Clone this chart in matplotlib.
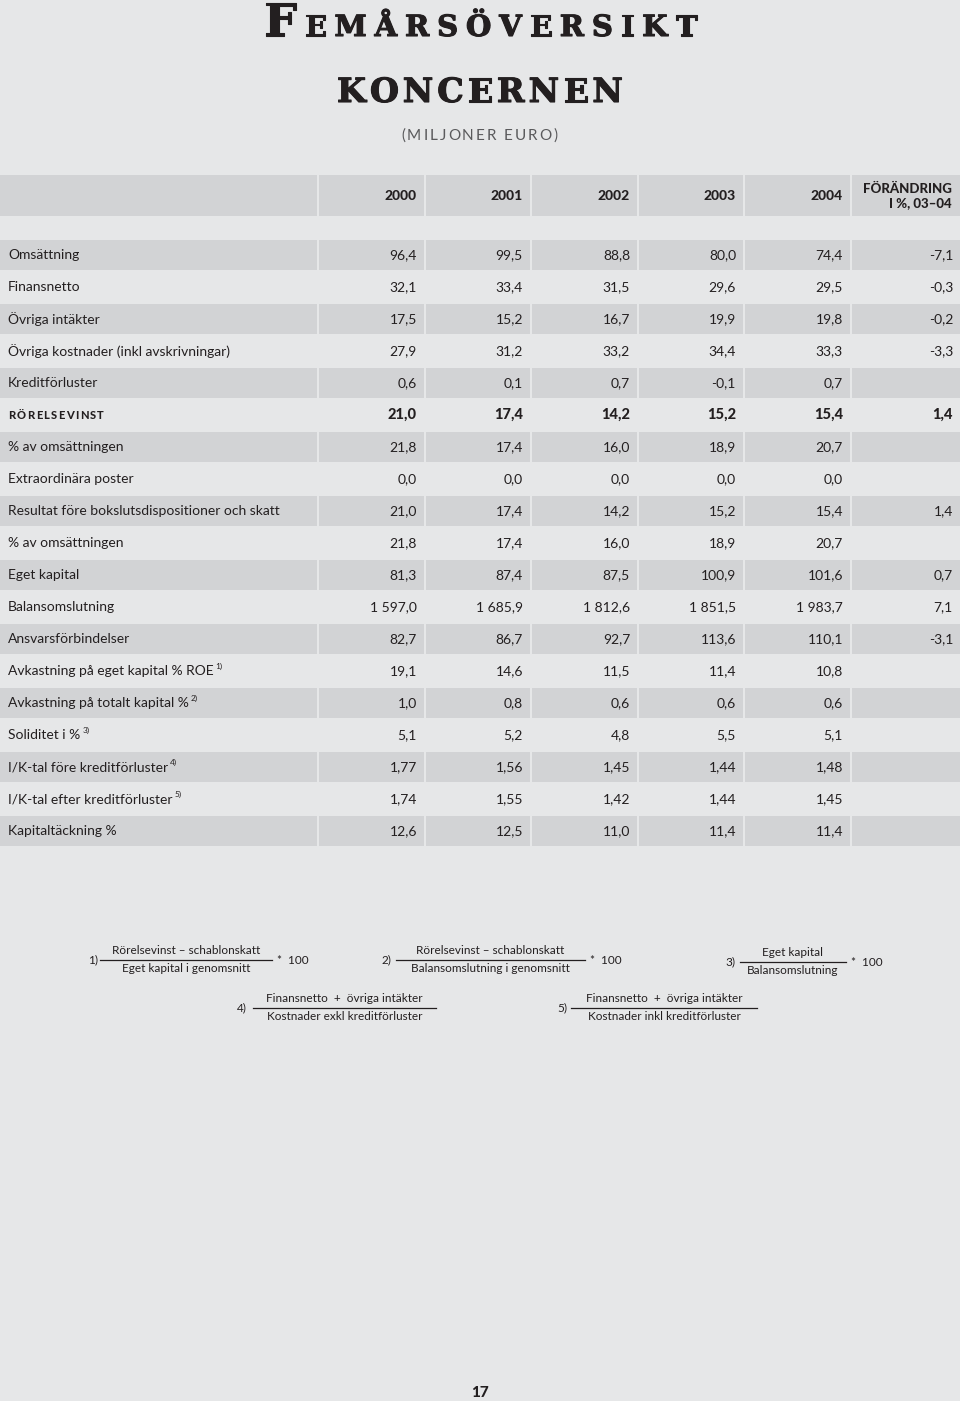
import matplotlib
matplotlib.use("Agg")
import matplotlib.pyplot as plt
from matplotlib.patches import Rectangle
import matplotlib.patheffects as pe

# ---------------- data ----------------
years = ["2000", "2001", "2002", "2003", "2004"]
change_header = ["FÖRÄNDRING", "I %, 03–04"]
row_labels = [
    "Omsättning", "Finansnetto", "Övriga intäkter",
    "Övriga kostnader (inkl avskrivningar)", "Kreditförluster",
    "RÖRELSEVINST", "% av omsättningen", "Extraordinära poster",
    "Resultat före bokslutsdispositioner och skatt", "% av omsättningen",
    "Eget kapital", "Balansomslutning", "Ansvarsförbindelser",
    "Avkastning på eget kapital % ROE", "Avkastning på totalt kapital %",
    "Soliditet i %", "I/K-tal före kreditförluster",
    "I/K-tal efter kreditförluster", "Kapitaltäckning %",
]
row_notes = ["", "", "", "", "", "", "", "", "", "", "", "", "",
             "1)", "2)", "3)", "4)", "5)", ""]
row_decimals = [1, 1, 1, 1, 1, 1, 1, 1, 1, 1, 1, 1, 1, 1, 1, 1, 2, 2, 1]
bold_rows = ["RÖRELSEVINST"]

v2000 = [96.4, 32.1, 17.5, 27.9, 0.6, 21.0, 21.8, 0.0, 21.0, 21.8, 81.3, 1597.0, 82.7, 19.1, 1.0, 5.1, 1.77, 1.74, 12.6]
v2001 = [99.5, 33.4, 15.2, 31.2, 0.1, 17.4, 17.4, 0.0, 17.4, 17.4, 87.4, 1685.9, 86.7, 14.6, 0.8, 5.2, 1.56, 1.55, 12.5]
v2002 = [88.8, 31.5, 16.7, 33.2, 0.7, 14.2, 16.0, 0.0, 14.2, 16.0, 87.5, 1812.6, 92.7, 11.5, 0.6, 4.8, 1.45, 1.42, 11.0]
v2003 = [80.0, 29.6, 19.9, 34.4, -0.1, 15.2, 18.9, 0.0, 15.2, 18.9, 100.9, 1851.5, 113.6, 11.4, 0.6, 5.5, 1.44, 1.44, 11.4]
v2004 = [74.4, 29.5, 19.8, 33.3, 0.7, 15.4, 20.7, 0.0, 15.4, 20.7, 101.6, 1983.7, 110.1, 10.8, 0.6, 5.1, 1.48, 1.45, 11.4]
vchange = [-7.1, -0.3, -0.2, -3.3, None, 1.4, None, None, 1.4, None, 0.7, 7.1, -3.1, None, None, None, None, None, None]

footnotes = [
    ("1)", "Rörelsevinst – schablonskatt", "Eget kapital i genomsnitt", True),
    ("2)", "Rörelsevinst – schablonskatt", "Balansomslutning i genomsnitt", True),
    ("3)", "Eget kapital", "Balansomslutning", True),
    ("4)", "Finansnetto  +  övriga intäkter", "Kostnader exkl kreditförluster", False),
    ("5)", "Finansnetto  +  övriga intäkter", "Kostnader inkl kreditförluster", False),
]
page_number = "17"

# ---------------- style ----------------
BG = "#e6e7e8"
SHADE = "#d2d3d5"
TXT = "#231f20"
FONT = "Lato"

W, H = 960, 1401
fig = plt.figure(figsize=(W / 100, H / 100), dpi=100, facecolor=BG)
ax = fig.add_axes([0, 0, 1, 1])
ax.set_xlim(0, W)
ax.set_ylim(H, 0)
ax.axis("off")
ax.set_facecolor(BG)
renderer = fig.canvas.get_renderer()


def fmt(v, d):
    if v is None:
        return ""
    s = f"{abs(v):,.{d}f}".replace(",", " ").replace(".", ",")
    return ("-" if v < 0 else "") + s


def text_width(s, **kw):
    t = ax.text(0, 0, s, **kw)
    w = t.get_window_extent(renderer).width
    t.remove()
    return w


def spaced(x0, x1, y, parts, **kw):
    """parts: list of (char, fontsize); spread between x0 and x1 on baseline y."""
    widths = []
    for ch, fs in parts:
        if ch == " ":
            widths.append(fs * 0.35)
        else:
            widths.append(text_width(ch, fontsize=fs, **kw))
    gap = (x1 - x0 - sum(widths)) / (len(parts) - 1)
    x = x0
    for (ch, fs), w in zip(parts, widths):
        if ch != " ":
            ax.text(x, y, ch, fontsize=fs, ha="left", va="baseline", **kw)
        x += w + gap


# ---------------- title ----------------
heavy = [pe.withStroke(linewidth=0.8, foreground=TXT)]
serif = dict(family="DejaVu Serif", fontweight="bold", color=TXT, path_effects=heavy)
title_parts = [("F", 33)] + [(c, 21) for c in "EMÅRSÖVERSIKT"]
spaced(264, 697, 36, title_parts, **serif)
spaced(337, 623, 102, [(c, 24) for c in "KONCERNEN"], **serif)
spaced(401, 558, 140, [(c, 11) for c in "(MILJONER EURO)"],
       family=FONT, fontweight="normal", color="#5a5a5c")

# ---------------- table ----------------
col_edges = [(0, 317), (319, 424), (426, 530), (532, 637), (639, 743), (745, 850), (852, 960)]
columns = [v2000, v2001, v2002, v2003, v2004]

for x0, x1 in col_edges:
    ax.add_patch(Rectangle((x0, 175), x1 - x0, 41, facecolor=SHADE, edgecolor="none"))
for i, yr in enumerate(years):
    ax.text(col_edges[i + 1][1] - 7, 196, yr, ha="right", va="center",
            fontsize=10, fontweight="black", family=FONT, color=TXT)
ax.text(col_edges[6][1] - 8, 189, change_header[0], ha="right", va="center",
        fontsize=9.5, fontweight="black", family=FONT, color=TXT)
ax.text(col_edges[6][1] - 8, 203, change_header[1], ha="right", va="center",
        fontsize=9.5, fontweight="black", family=FONT, color=TXT)

y0, step = 255, 32
for r, lab in enumerate(row_labels):
    yc = y0 + r * step
    if r % 2 == 0:
        for x0, x1 in col_edges:
            ax.add_patch(Rectangle((x0, yc - 15), x1 - x0, 30, facecolor=SHADE, edgecolor="none"))
    bold = lab in bold_rows
    if bold:
        spaced(8, 104, yc + 4, [(c, 8) for c in lab],
               family=FONT, fontweight="black", color=TXT)
    else:
        t = ax.text(8, yc, lab, ha="left", va="center", fontsize=10,
                    family=FONT, color=TXT)
        if row_notes[r]:
            ext = t.get_window_extent(renderer)
            ax.text(ext.x1 + 2, yc - 5, row_notes[r], ha="left", va="center",
                    fontsize=6, family=FONT, color=TXT)
    vals = [c[r] for c in columns] + [vchange[r]]
    for i, v in enumerate(vals):
        ax.text(col_edges[i + 1][1] - 7, yc, fmt(v, row_decimals[r]), ha="right", va="center",
                fontsize=10.5 if bold else 10, family=FONT,
                fontweight="black" if bold else "normal", color=TXT)

# ---------------- footnotes ----------------
fn_layout = [
    (88, 100, 272, 960),
    (382, 396, 585, 960),
    (725, 740, 846, 962),
    (237, 253, 436, 1008),
    (557, 571, 757, 1008),
]
fkw = dict(family=FONT, fontsize=8.5, color=TXT)
for (mark, num, den, times), (xm, lx0, lx1, yl) in zip(footnotes, fn_layout):
    ax.plot([lx0, lx1], [yl, yl], color=TXT, lw=0.9)
    xc = (lx0 + lx1) / 2
    ax.text(xm, yl, mark, ha="left", va="center", **fkw)
    ax.text(xc, yl - 10, num, ha="center", va="center", **fkw)
    ax.text(xc, yl + 9, den, ha="center", va="center", **fkw)
    if times:
        ax.text(lx1 + 5, yl, "*  100", ha="left", va="center", **fkw)

ax.text(480, 1393, page_number, ha="center", va="center", fontsize=11,
        fontweight="black", family=FONT, color=TXT)

fig.savefig("out.png", dpi=100, facecolor=BG)
